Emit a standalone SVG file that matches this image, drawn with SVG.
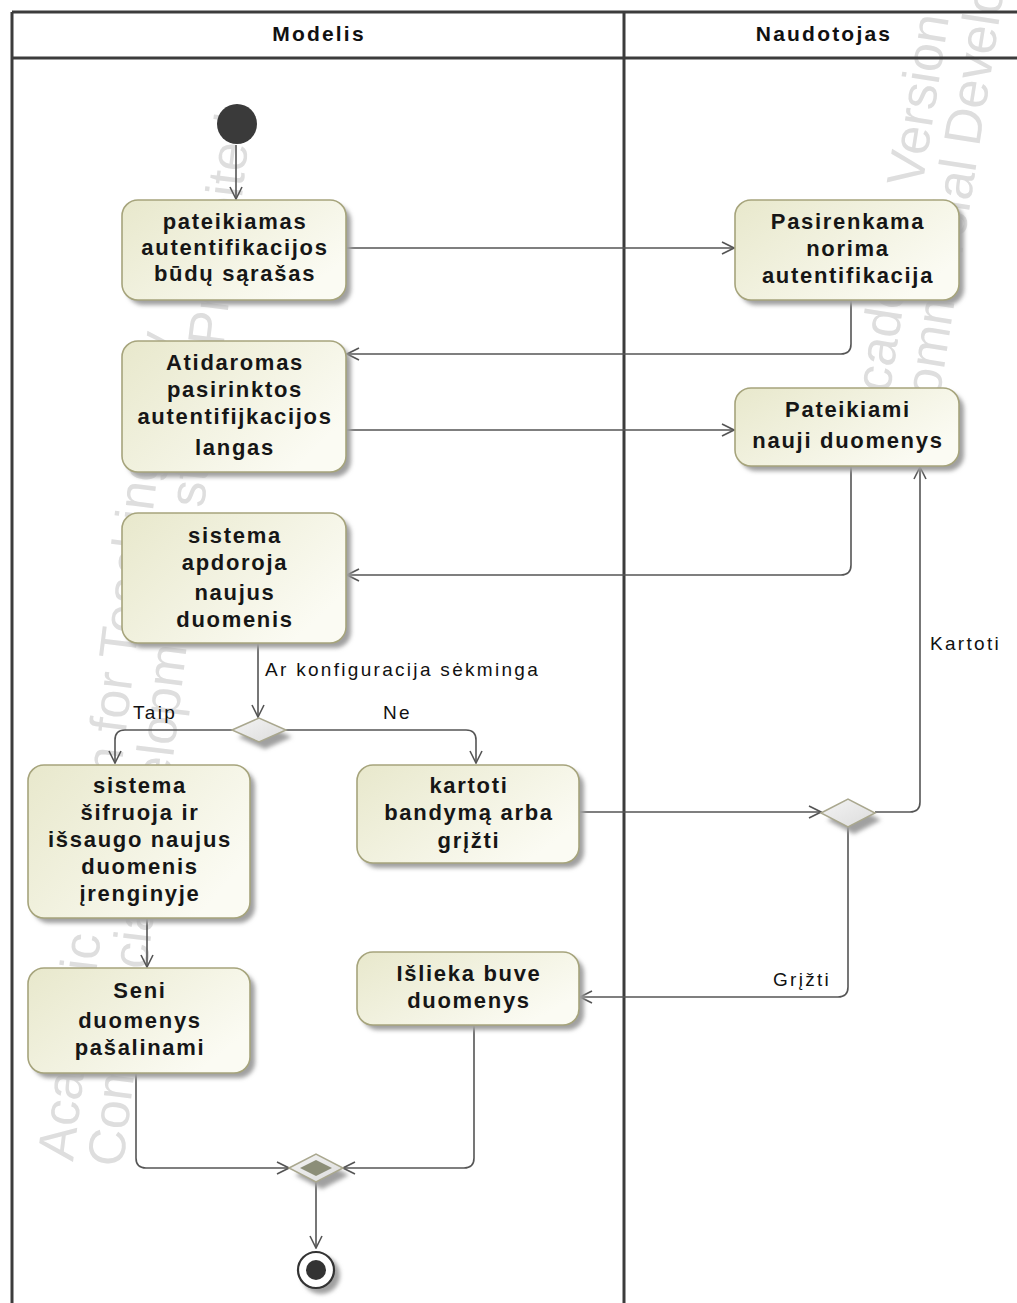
<svg xmlns="http://www.w3.org/2000/svg" width="1017" height="1303" viewBox="0 0 1017 1303">
  <defs>
    <linearGradient id="actFill" x1="0" y1="0" x2="1" y2="0.6">
      <stop offset="0" stop-color="#e8e8cc"/>
      <stop offset="1" stop-color="#fbfbf3"/>
    </linearGradient>
    <linearGradient id="decFill" x1="0" y1="0" x2="1" y2="1">
      <stop offset="0" stop-color="#f4f4f4"/>
      <stop offset="1" stop-color="#dcdcdc"/>
    </linearGradient>
    <filter id="soft" x="-20%" y="-20%" width="140%" height="140%">
      <feGaussianBlur stdDeviation="2"/>
    </filter>
    <marker id="arr" viewBox="0 0 14 14" refX="13" refY="7" markerWidth="14" markerHeight="14" markerUnits="userSpaceOnUse" orient="auto">
      <path d="M1,1 L13,7 L1,13" fill="none" stroke="#555" stroke-width="1.6"/>
    </marker>
  </defs>
  <style>
    .lane{fill:none;stroke:#3c3c3c;stroke-width:3}
    .hdr{font-family:"Liberation Sans",Arial,sans-serif;font-weight:bold;font-size:21px;fill:#111;text-anchor:middle;letter-spacing:2.2px}
    .act{fill:url(#actFill);stroke:#a6a47c;stroke-width:1.6}
    .shd{fill:#a0a0a0;filter:url(#soft)}
    .lbl{font-family:"Liberation Sans",Arial,sans-serif;font-weight:bold;font-size:22px;fill:#161616;text-anchor:middle;letter-spacing:1.7px}
    .edge{fill:none;stroke:#555;stroke-width:1.6;marker-end:url(#arr)}
    .elbl{font-family:"Liberation Sans",Arial,sans-serif;font-size:19px;fill:#111;letter-spacing:2.3px}
    .dec{fill:url(#decFill);stroke:#a9a78e;stroke-width:1.5}
    .wm{font-family:"Liberation Sans",Arial,sans-serif;font-size:52px;fill:#dedede}
  </style>

  <rect width="1017" height="1303" fill="#fff"/>

  <!-- background licence watermark -->
  <g id="watermark">
    <g transform="translate(73,1162) rotate(-83)">
      <text class="wm" x="0" y="0">Academic Version for Teaching Only</text>
      <text class="wm" x="0" y="50">Commercial Development is strictly Prohibited</text>
    </g>
    <g transform="translate(884,428) rotate(-81)">
      <text class="wm" x="0" y="0">Academic Version for Teaching Only</text>
      <text class="wm" x="0" y="50">Commercial Development is strictly Prohibited</text>
    </g>
  </g>

  <!-- swimlane partitions -->
  <g id="lanes">
    <line class="lane" x1="12" y1="12" x2="1017" y2="12"/>
    <line class="lane" x1="12" y1="58" x2="1017" y2="58"/>
    <line class="lane" x1="12" y1="12" x2="12" y2="1303"/>
    <line class="lane" x1="624" y1="12" x2="624" y2="1303"/>
    <text class="hdr" x="319" y="41">Modelis</text>
    <text class="hdr" x="824" y="41">Naudotojas</text>
  </g>

  <!-- control flows -->
  <g id="connectors">
    <path class="edge" d="M236,145 V199"/>
    <path class="edge" d="M346,248 H734"/>
    <path class="edge" d="M851,300 V344 Q851,354 841,354 H347"/>
    <path class="edge" d="M346,430 H734"/>
    <path class="edge" d="M851,466 V565 Q851,575 841,575 H347"/>
    <path class="edge" d="M258,643 V717"/>
    <path class="edge" d="M232,730 H125 Q115,730 115,740 V763"/>
    <path class="edge" d="M285,730 H466 Q476,730 476,740 V763"/>
    <path class="edge" d="M147,918 V967"/>
    <path class="edge" d="M579,812 H821"/>
    <path class="edge" d="M875,812 H910 Q920,812 920,802 V467"/>
    <path class="edge" d="M848,827 V987 Q848,997 838,997 H580"/>
    <path class="edge" d="M136,1073 V1158 Q136,1168 146,1168 H289"/>
    <path class="edge" d="M474,1025 V1158 Q474,1168 464,1168 H343"/>
    <path class="edge" d="M316,1182 V1248"/>
    <text class="elbl" x="265" y="676">Ar konfiguracija sėkminga</text>
    <text class="elbl" x="133" y="719">Taip</text>
    <text class="elbl" x="383" y="719">Ne</text>
    <text class="elbl" x="930" y="650">Kartoti</text>
    <text class="elbl" x="773" y="986">Grįžti</text>
  </g>

  <!-- initial node -->
  <g id="start">
    <circle cx="237" cy="124" r="20" fill="#3a3a3a"/>
  </g>

  <g id="a1">
    <rect class="shd" x="127" y="205" width="224" height="100" rx="16"/>
    <rect class="act" x="122" y="200" width="224" height="100" rx="16"/>
    <text class="lbl" x="235" y="229">pateikiamas</text>
    <text class="lbl" x="235" y="255">autentifikacijos</text>
    <text class="lbl" x="235" y="281">būdų sąrašas</text>
  </g>

  <g id="a2">
    <rect class="shd" x="740" y="205" width="224" height="100" rx="16"/>
    <rect class="act" x="735" y="200" width="224" height="100" rx="16"/>
    <text class="lbl" x="848" y="229">Pasirenkama</text>
    <text class="lbl" x="848" y="256">norima</text>
    <text class="lbl" x="848" y="283">autentifikacija</text>
  </g>

  <g id="a3">
    <rect class="shd" x="127" y="346" width="224" height="131" rx="16"/>
    <rect class="act" x="122" y="341" width="224" height="131" rx="16"/>
    <text class="lbl" x="235" y="370">Atidaromas</text>
    <text class="lbl" x="235" y="397">pasirinktos</text>
    <text class="lbl" x="235" y="424">autentifijkacijos</text>
    <text class="lbl" x="235" y="455">langas</text>
  </g>

  <g id="a4">
    <rect class="shd" x="740" y="393" width="224" height="78" rx="16"/>
    <rect class="act" x="735" y="388" width="224" height="78" rx="16"/>
    <text class="lbl" x="848" y="417">Pateikiami</text>
    <text class="lbl" x="848" y="448">nauji duomenys</text>
  </g>

  <g id="a5">
    <rect class="shd" x="127" y="518" width="224" height="130" rx="16"/>
    <rect class="act" x="122" y="513" width="224" height="130" rx="16"/>
    <text class="lbl" x="235" y="543">sistema</text>
    <text class="lbl" x="235" y="570">apdoroja</text>
    <text class="lbl" x="235" y="600">naujus</text>
    <text class="lbl" x="235" y="627">duomenis</text>
  </g>

  <g id="d1">
    <path class="shd" d="M238,737 L265,725 L292,737 L265,749 Z"/>
    <path class="dec" d="M232,730 L259,718 L286,730 L259,742 Z"/>
  </g>

  <g id="a6">
    <rect class="shd" x="33" y="770" width="222" height="153" rx="16"/>
    <rect class="act" x="28" y="765" width="222" height="153" rx="16"/>
    <text class="lbl" x="140" y="793">sistema</text>
    <text class="lbl" x="140" y="820">šifruoja ir</text>
    <text class="lbl" x="140" y="847">išsaugo naujus</text>
    <text class="lbl" x="140" y="874">duomenis</text>
    <text class="lbl" x="140" y="901">įrenginyje</text>
  </g>

  <g id="a7">
    <rect class="shd" x="362" y="770" width="222" height="98" rx="16"/>
    <rect class="act" x="357" y="765" width="222" height="98" rx="16"/>
    <text class="lbl" x="469" y="793">kartoti</text>
    <text class="lbl" x="469" y="820">bandymą arba</text>
    <text class="lbl" x="469" y="848">grįžti</text>
  </g>

  <g id="d2">
    <path class="shd" d="M827,820 L854,806 L881,820 L854,834 Z"/>
    <path class="dec" d="M821,813 L848,799 L875,813 L848,827 Z"/>
  </g>

  <g id="a8">
    <rect class="shd" x="33" y="973" width="222" height="105" rx="16"/>
    <rect class="act" x="28" y="968" width="222" height="105" rx="16"/>
    <text class="lbl" x="140" y="998">Seni</text>
    <text class="lbl" x="140" y="1028">duomenys</text>
    <text class="lbl" x="140" y="1055">pašalinami</text>
  </g>

  <g id="a9">
    <rect class="shd" x="362" y="957" width="222" height="73" rx="16"/>
    <rect class="act" x="357" y="952" width="222" height="73" rx="16"/>
    <text class="lbl" x="469" y="981">Išlieka buve</text>
    <text class="lbl" x="469" y="1008">duomenys</text>
  </g>

  <g id="merge">
    <path class="shd" d="M295,1175 L322,1161 L349,1175 L322,1189 Z"/>
    <path class="dec" d="M289,1168 L316,1154 L343,1168 L316,1182 Z"/>
    <path d="M300,1168 L316,1160 L332,1168 L316,1176 Z" fill="#8c8e78"/>
  </g>

  <g id="end">
    <circle class="shd" cx="321" cy="1275" r="19"/>
    <circle cx="316" cy="1270" r="18" fill="#fff" stroke="#333" stroke-width="2.2"/>
    <circle cx="316" cy="1270" r="10" fill="#333"/>
  </g>
</svg>
